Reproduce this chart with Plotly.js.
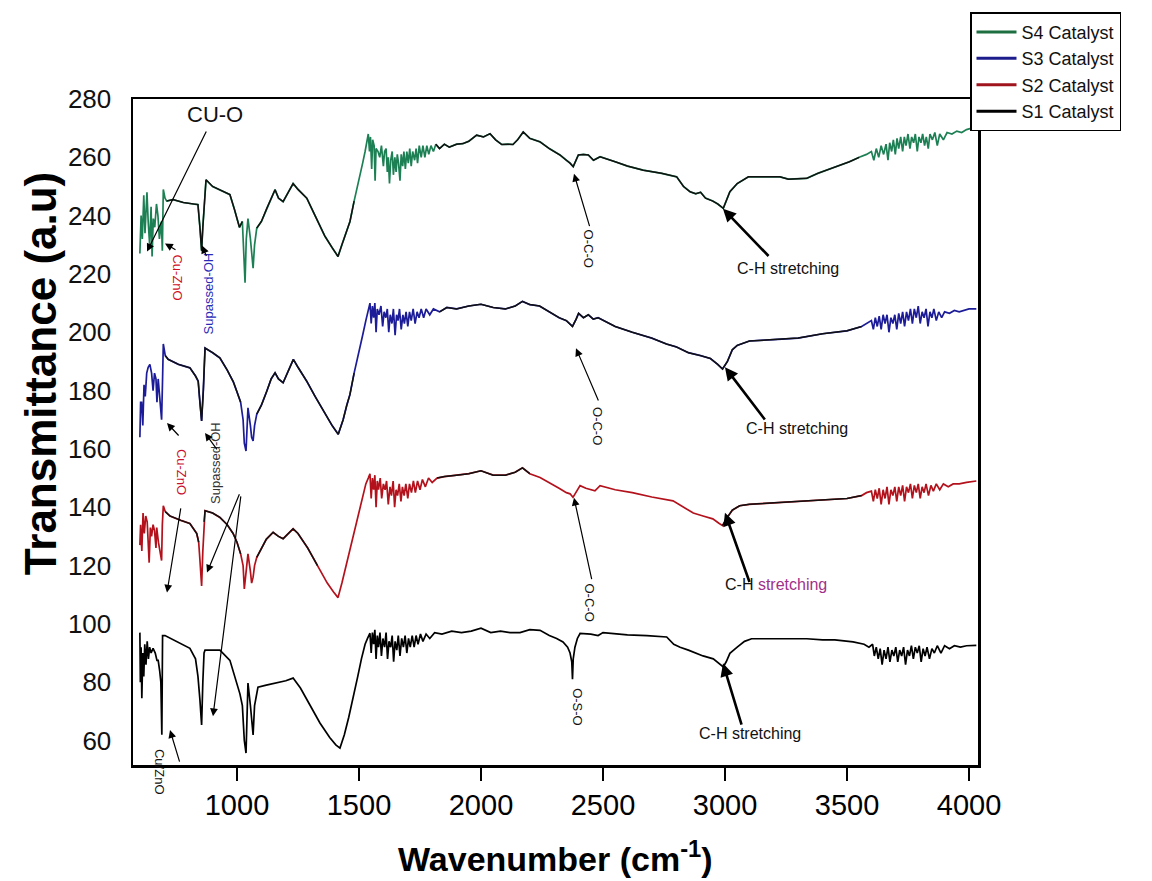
<!DOCTYPE html>
<html>
<head>
<meta charset="utf-8">
<script src="https://cdn.plot.ly/plotly-3.0.1.min.js"></script>
<style>html,body{margin:0;padding:0;background:#fff;}#chart{width:1152px;height:881px;}</style>
</head>
<body>
<div id="chart"></div>
<script>
// ---- Data (wavenumber cm-1, transmittance a.u.) ----
const seriesNames = ['S4 Catalyst', 'S3 Catalyst', 'S2 Catalyst', 'S1 Catalyst'];
const xTicks = [1000, 1500, 2000, 2500, 3000, 3500, 4000];
const yTicks = [60, 80, 100, 120, 140, 160, 180, 200, 220, 240, 260, 280];

const S4 = [[602,227],[607,240],[612,232],[618,247],[623,234],[628,244],[631,248],[636,238],[642,230],[648,243],[652,226],[657,239],[663,236],[670,244],[676,240],[682,232],[690,238],[694,228],[698,249],[705,246],[712,245],[738,245.5],[780,244.5],[820,244],[840,243.8],[848,236],[855,228],[860,236],[866,244],[873,252.3],[900,250],[940,248.5],[971,247.2],[990,242],[999,239],[1010,236],[1022,238],[1028,226],[1033,217],[1038,232],[1045,239],[1055,232],[1060,226],[1066,222],[1072,230],[1081,235.7],[1100,238],[1122,242.5],[1140,246],[1156,248.9],[1170,246],[1189,244.8],[1210,248],[1230,251],[1250,249],[1286,246],[1320,240],[1360,233],[1390,229],[1414,226],[1430,230],[1445,234],[1463,238],[1480,245],[1500,252],[1515,258],[1525,262],[1532,266],[1538,268],[1543,262],[1547,267],[1552,256],[1556,266],[1562,264],[1566,252],[1570,263],[1578,262],[1585,260],[1592,264],[1600,257],[1605,262],[1611,263],[1616,255],[1620,260],[1625,251],[1630,259],[1636,262],[1641,254],[1647,260],[1652,255],[1657,261],[1662,258],[1668,252],[1673,261],[1679,257],[1684,262],[1690,256],[1696,262],[1702,258],[1708,263],[1714,257],[1720,262],[1728,259],[1734,263],[1740,258],[1747,264],[1755,260],[1762,264],[1770,260],[1778,264],[1786,261],[1795,264],[1805,262],[1815,264.5],[1830,263],[1850,264.5],[1870,263.5],[1900,264.5],[1926,264.7],[1950,265.5],[1982,267.6],[2010,267],[2037,268.1],[2060,266],[2085,264.4],[2110,264.5],[2131,264.4],[2150,266],[2173,268.7],[2200,266.5],[2242,265.3],[2280,263],[2324,260.8],[2350,259],[2365,258],[2378,256.8],[2390,259],[2399,260.8],[2420,261],[2440,260.8],[2461,259],[2488,260.2],[2550,258.5],[2600,257],[2665,255.6],[2740,254.5],[2802,253.3],[2830,250],[2857,248.2],[2880,247.5],[2900,248],[2920,246],[2950,245],[2970,244],[2993,242.5],[3005,245],[3020,248.2],[3050,251],[3096,253.3],[3150,253.3],[3225,253.3],[3260,252.5],[3335,252.8],[3380,254.5],[3430,256],[3471,257.3],[3510,258.5],[3550,260],[3580,261],[3600,262],[3610,259],[3620,263],[3630,260],[3640,264],[3650,261],[3660,264.5],[3668,259],[3675,265],[3683,262],[3690,266],[3698,261],[3705,266.5],[3712,263],[3720,267],[3728,262],[3735,267],[3742,264],[3750,268],[3758,263],[3765,267],[3773,265],[3780,268],[3788,262],[3795,267],[3803,265],[3810,268],[3818,264],[3825,267],[3833,263],[3840,268],[3850,266],[3860,268.5],[3870,264],[3880,268],[3895,266],[3910,268.5],[3930,268],[3950,269],[3970,268.5],[3990,269.5],[4010,270],[4030,270.5]];

const S3 = [[602,164],[605,176],[609,176],[614,168],[619,182],[624,178],[630,186],[636,188],[643,189],[650,186],[656,180],[662,186],[668,184],[672,176],[677,184],[684,178],[691,170],[695,184],[698,196],[706,192],[718,190.7],[760,189],[807,187.8],[830,185],[841,183.2],[848,176],[855,169.6],[862,180],[869,194.6],[900,193],[930,191.2],[960,187],[985,183],[999,179.8],[1015,176],[1025,170],[1030,162],[1037,159.3],[1041,170],[1045,174.1],[1055,168],[1060,164],[1066,162.7],[1072,168],[1081,171.9],[1100,175],[1122,179.8],[1140,184],[1156,186.1],[1170,184],[1189,182.7],[1210,187],[1231,190.7],[1250,188],[1286,183.2],[1320,178],[1360,172],[1390,168],[1415,165],[1435,170],[1450,175],[1463,178.7],[1480,186],[1500,193],[1515,199],[1528,204],[1538,208],[1545,210],[1550,203],[1555,209],[1560,205],[1565,210],[1570,200],[1575,208],[1582,206],[1590,209],[1597,202],[1603,207],[1610,205],[1616,208],[1622,200],[1628,206],[1635,203],[1641,208],[1648,199],[1654,206],[1660,204],[1666,208],[1673,201],[1680,206],[1686,203],[1693,207],[1700,202],[1707,207],[1714,204],[1722,208],[1730,203],[1738,207],[1746,205],[1755,208],[1765,205],[1775,208],[1790,206],[1805,208],[1830,207],[1860,208.5],[1900,208],[1950,209],[2000,209.6],[2050,208.5],[2100,208],[2140,209],[2170,210.6],[2200,209.5],[2240,209],[2280,207],[2320,205],[2350,204],[2375,202],[2390,204.5],[2400,206.5],[2420,205],[2440,206],[2460,204.5],[2480,205],[2550,202],[2620,200],[2700,198],[2760,196],[2800,195],[2850,193],[2900,192],[2940,191],[2970,189],[2990,187.4],[3010,190],[3030,194],[3050,195.5],[3100,197],[3200,197.5],[3300,198],[3400,199.5],[3500,200.5],[3560,202],[3580,203],[3600,204],[3608,201],[3616,205],[3624,202],[3632,205.5],[3640,201],[3648,206],[3656,203],[3664,206],[3672,200],[3680,205],[3688,203],[3696,206],[3704,201],[3712,206.5],[3720,203],[3728,207],[3736,202],[3744,207],[3752,204],[3760,208],[3768,203],[3776,208],[3784,205],[3792,209],[3800,203],[3808,207],[3816,205],[3824,208],[3832,202],[3840,207],[3848,205],[3856,208],[3866,204],[3876,207],[3888,205],[3900,207],[3920,206.5],[3940,207.5],[3960,207],[3980,207.5],[4000,208],[4030,208]];

const S2 = [[602,127],[605,134],[610,125],[615,138],[620,131],[626,137],[632,135],[636,128],[640,121],[645,133],[650,130],[656,134],[662,132],[668,126],[671,133],[678,128],[685,124],[691,121.7],[694,134],[698,140.5],[706,138.5],[725,137],[770,135.5],[807,134.4],[835,131],[843,128],[848,122],[852,115],[855,113],[860,125],[865,135],[869,138.8],[900,138],[930,136.5],[960,134],[984,131],[1000,128],[1015,124],[1025,120],[1030,112],[1035,116],[1041,122],[1045,124],[1055,118],[1060,114],[1066,116],[1072,120],[1081,122.8],[1100,126],[1120,129],[1148,131.4],[1170,130],[1189,129.2],[1210,131],[1230,132.6],[1250,131],[1290,126],[1330,120],[1370,114],[1395,111],[1414,109],[1430,114],[1450,121],[1470,128],[1490,135],[1505,140],[1518,144],[1528,148],[1538,150],[1545,151.5],[1550,143],[1555,150],[1560,146],[1565,151],[1570,140],[1575,149],[1580,146],[1587,150],[1593,143],[1600,148],[1607,146],[1613,149],[1620,141],[1627,147],[1633,144],[1640,149],[1646,140],[1652,146],[1658,144],[1665,148],[1672,142],[1678,147],[1685,144],[1692,148],[1700,143],[1707,148],[1715,145],[1723,149],[1731,145],[1740,149],[1750,146],[1760,149.5],[1772,147],[1785,150],[1800,148.5],[1820,150],[1850,150.5],[1900,151],[1950,151.5],[2000,152.5],[2050,151],[2100,151],[2140,152],[2170,153.5],[2200,151.5],[2242,150.2],[2280,148.5],[2320,146.5],[2350,145],[2365,144.6],[2377,143.4],[2390,145],[2406,147.4],[2430,146.5],[2450,146],[2467,145.6],[2488,147.4],[2550,146],[2620,145],[2700,143.5],[2787,142.2],[2830,140],[2870,138],[2910,137],[2950,136],[2975,134.5],[2990,133.7],[3005,136],[3030,139],[3060,140.5],[3100,141],[3200,141.5],[3300,142],[3400,142.5],[3500,143],[3560,144],[3580,145],[3600,145.5],[3608,142],[3616,146],[3624,143],[3632,146.5],[3640,141],[3648,146],[3656,143],[3664,147],[3672,141],[3680,146],[3688,144],[3696,147],[3704,142],[3712,147],[3720,144],[3728,147.5],[3736,142],[3744,147],[3752,145],[3760,148],[3768,143],[3776,147.5],[3784,145],[3792,148],[3800,143],[3808,147],[3816,145],[3824,148],[3834,144],[3844,147.5],[3854,145.5],[3866,148],[3880,146],[3895,148],[3915,147],[3935,148],[3960,148],[3990,148.5],[4030,149]];

const S1 = [[602,97],[604,80],[607,92],[610,74.5],[614,90],[618,82],[622,93],[627,86],[632,94],[637,88],[642,92],[648,90],[656,91.6],[665,90],[672,87.5],[677,87.5],[683,84],[688,80],[692,62],[695,96],[705,96],[750,94],[807,91.6],[830,88],[840,82],[848,74],[852,66],[855,65.3],[860,80],[865,90],[869,91],[900,91],[930,91],[971,87.5],[990,82],[1005,78],[1012,76],[1022,72],[1030,60],[1037,55.7],[1041,72],[1045,79.7],[1055,72],[1060,66],[1066,61.9],[1072,72],[1086,78.3],[1120,79],[1163,79.7],[1200,80.5],[1230,81.4],[1260,78],[1300,72],[1340,66],[1380,61],[1405,58.5],[1422,57.4],[1440,62],[1458,68],[1475,74],[1495,82],[1510,88],[1525,93],[1535,95],[1545,96.8],[1550,90],[1555,97],[1560,93],[1565,98],[1570,88],[1575,96],[1580,92],[1586,97],[1592,89],[1598,95],[1605,92],[1611,97],[1617,88],[1623,94],[1630,92],[1636,96],[1642,87],[1648,94],[1655,91],[1661,96],[1668,89],[1675,95],[1682,92],[1689,96],[1696,90],[1703,95],[1710,92],[1718,96],[1726,92],[1734,96],[1742,93],[1752,96.5],[1762,94],[1775,96.5],[1790,95],[1810,97],[1840,96.5],[1880,97.5],[1920,97],[1960,97.5],[2000,98.5],[2040,97],[2080,97.5],[2120,97],[2160,97],[2200,98],[2242,97.8],[2280,96],[2310,95],[2336,93.8],[2355,92],[2365,90],[2372,87],[2375,81],[2378,88],[2385,92],[2395,95],[2406,96.7],[2450,96.5],[2480,96],[2500,97],[2541,96.7],[2600,96.2],[2680,96],[2761,95.5],[2790,93],[2816,92],[2850,91],[2880,90],[2910,89],[2952,88],[2975,86.5],[2993,85.2],[3005,87],[3020,89.9],[3050,92],[3080,94],[3109,94.9],[3200,94.9],[3250,94.9],[3335,94.9],[3400,94.5],[3450,94.5],[3525,93.8],[3570,93],[3590,92],[3605,93],[3612,89],[3620,92],[3628,88],[3636,91.5],[3644,86],[3652,91],[3660,88],[3668,92],[3676,87],[3684,91],[3692,89],[3700,92],[3708,87],[3716,91],[3724,89],[3732,92],[3740,86],[3748,91],[3756,89],[3764,92.5],[3772,88],[3780,92],[3788,90],[3796,92.5],[3804,87],[3812,91.5],[3820,89],[3828,92],[3838,88],[3848,91.5],[3858,90],[3870,92.5],[3885,90],[3900,92.5],[3920,91.5],[3940,92.5],[3965,92],[3990,92.5],[4030,92.6]];

// ---- Styling ----
const seriesData = [S4, S3, S2, S1];
const seriesColors = ['#1d8054', '#1c1c98', '#b3121c', '#111111'];
const legendColors = ['#1d6e40', '#1c1c8c', '#a0141e', '#000000'];
// wavenumber windows where the coloured line shows (elsewhere a black line overlays it)
const colouredBands = [
  [[595,706],[1024,1074],[1480,1812],[3575,4040]],
  [[595,706],[1024,1074],[1480,1812],[3575,4040]],
  [[595,706],[845,862],[1024,1074],[1340,1812],[2200,2990],[3575,4040]],
  []
];

const XR = [573.8, 4036.9], YR = [51.6, 280];
const L = 133, R = 978, T = 97, B = 765;
const X = p => XR[0] + (p - L) * (XR[1] - XR[0]) / (R - L);
const Y = p => YR[1] - (p - T) * (YR[1] - YR[0]) / (B - T);
const PX = p => (p - L) / (R - L);
const PY = p => (B - p) / (B - T);

const traces = [];
seriesData.forEach((d, i) => {
  const xs = d.map(p => p[0]), ys = d.map(p => p[1]);
  traces.push({
    x: xs, y: ys, type: 'scatter', mode: 'lines', name: seriesNames[i],
    line: {color: i === 3 ? '#000' : seriesColors[i], width: 1.7},
    showlegend: false, hoverinfo: 'skip'
  });
  if (colouredBands[i].length) {
    const inBand = x => colouredBands[i].some(b => x > b[0] && x < b[1]);
    traces.push({
      x: xs, y: ys.map((v, k) => inBand(xs[k]) ? null : v), type: 'scatter', mode: 'lines',
      line: {color: '#111', width: 1.5}, showlegend: false, connectgaps: false, hoverinfo: 'skip'
    });
  }
});
// legend entries
seriesNames.forEach((n, i) => {
  traces.push({x: [null], y: [null], type: 'scatter', mode: 'lines', name: n,
    line: {color: legendColors[i], width: 3}, showlegend: true});
});

const F = 'Arial, "Liberation Sans", sans-serif';
function txt(px, py, text, angle, color, size) {
  return {x: X(px), y: Y(py), xref: 'x', yref: 'y', text: text, showarrow: false,
    textangle: angle, font: {family: F, size: size, color: color}};
}
function arr(tx, ty, hx, hy, w, s) {
  return {x: X(hx), y: Y(hy), ax: X(tx), ay: Y(ty), xref: 'x', yref: 'y', axref: 'x', ayref: 'y',
    text: '', showarrow: true, arrowhead: 2, arrowsize: s || 1.3, arrowwidth: w || 1.2,
    arrowcolor: '#000', standoff: 0, startstandoff: 0};
}
const annotations = [
  txt(215, 113, 'CU-O', 0, '#111', 22),
  arr(207, 128, 147, 250, 1.2, 1.3),
  txt(178, 276, 'Cu-ZnO', 90, '#d0101e', 13),
  arr(177, 249, 165, 242),
  txt(208, 292, 'Supassed-OH', -90, '#2a2ab8', 13),
  arr(207, 256, 202, 244),
  txt(181, 471, 'Cu-ZnO', 90, '#c8102e', 13),
  arr(180, 436, 167, 422),
  arr(181, 506, 167, 592),
  txt(216, 462, 'Supassed-OH', -90, '#333', 13),
  arr(218, 450, 205, 432),
  arr(240, 492, 207, 572),
  arr(241, 494, 213, 716),
  // S1 Cu/ZnO label sits across the bottom axis: paper coordinates
  {xref: 'paper', yref: 'paper', x: PX(159), y: PY(772), xanchor: 'center', yanchor: 'middle',
   text: 'Cu/ZnO', textangle: 90, showarrow: false,
   font: {family: F, size: 13, color: '#111'}},
  {xref: 'paper', yref: 'paper', x: PX(170), y: PY(730), axref: 'pixel', ayref: 'pixel', ax: 10, ay: 33,
   text: '', showarrow: true, arrowhead: 2, arrowsize: 1.3, arrowwidth: 1.2, arrowcolor: '#000', standoff: 0},
  txt(588, 247, 'O-C-O', 90, '#111', 13),
  arr(590, 226, 574, 172),
  txt(598, 425, 'O-C-O', 90, '#111', 13),
  arr(599, 401, 576, 347),
  txt(590, 602, 'O-C-O', 90, '#111', 13),
  arr(592, 580, 574, 497),
  txt(578, 707, 'O-S-O', 90, '#111', 13),
  txt(788, 267, 'C-H stretching', 0, '#111', 16),
  arr(770, 256, 723, 207, 2.6, 1.0),
  txt(797, 427, 'C-H stretching', 0, '#111', 16),
  arr(766, 420, 725, 366, 2.6, 1.0),
  txt(776, 584, 'C-H <span style="color:#a0308a">stretching</span>', 0, '#111', 16),
  arr(750, 583, 725, 512, 2.6, 1.0),
  txt(750, 733, 'C-H stretching', 0, '#111', 16),
  arr(742, 726, 723, 663, 2.6, 1.0),
  // axis titles
  {xref: 'paper', yref: 'paper', x: PX(40), y: PY(373), xanchor: 'center', yanchor: 'middle',
   text: '<b>Transmittance (a.u)</b>', textangle: -90,
   showarrow: false, font: {family: F, size: 44, color: '#000'}},
  {xref: 'paper', yref: 'paper', x: 0.5, y: PY(857), xanchor: 'center', yanchor: 'middle',
   text: '<b>Wavenumber (cm<sup>-1</sup>)</b>',
   showarrow: false, font: {family: F, size: 34, color: '#000'}}
];

const layout = {
  width: 1152, height: 881,
  margin: {l: L, r: 1152 - R, t: T, b: 881 - B},
  paper_bgcolor: '#fff', plot_bgcolor: '#fff',
  showlegend: true,
  legend: {x: PX(970), xanchor: 'left', y: PY(10), yanchor: 'top', bgcolor: '#fff',
    bordercolor: '#000', borderwidth: 1.5, font: {family: F, size: 18, color: '#111'},
    tracegroupgap: 0, itemwidth: 40},
  xaxis: {range: XR, tickvals: xTicks, ticktext: xTicks.map(String), ticks: 'outside', ticklen: 13, tickwidth: 2.5,
    tickcolor: '#000', showline: true, linewidth: 2.5, linecolor: '#000', mirror: true, showgrid: false,
    zeroline: false, ticklabelstandoff: 0, tickfont: {family: F, size: 29, color: '#000'}},
  yaxis: {range: YR, tickvals: yTicks, ticktext: yTicks.map(String), ticks: '', showline: true,
    linewidth: 2.5, linecolor: '#000', mirror: true, showgrid: false, zeroline: false,
    ticklabelstandoff: 14, tickfont: {family: F, size: 26, color: '#111'}},
  annotations: annotations
};

Plotly.newPlot('chart', traces, layout, {displayModeBar: false, staticPlot: true});
</script>
</body>
</html>
